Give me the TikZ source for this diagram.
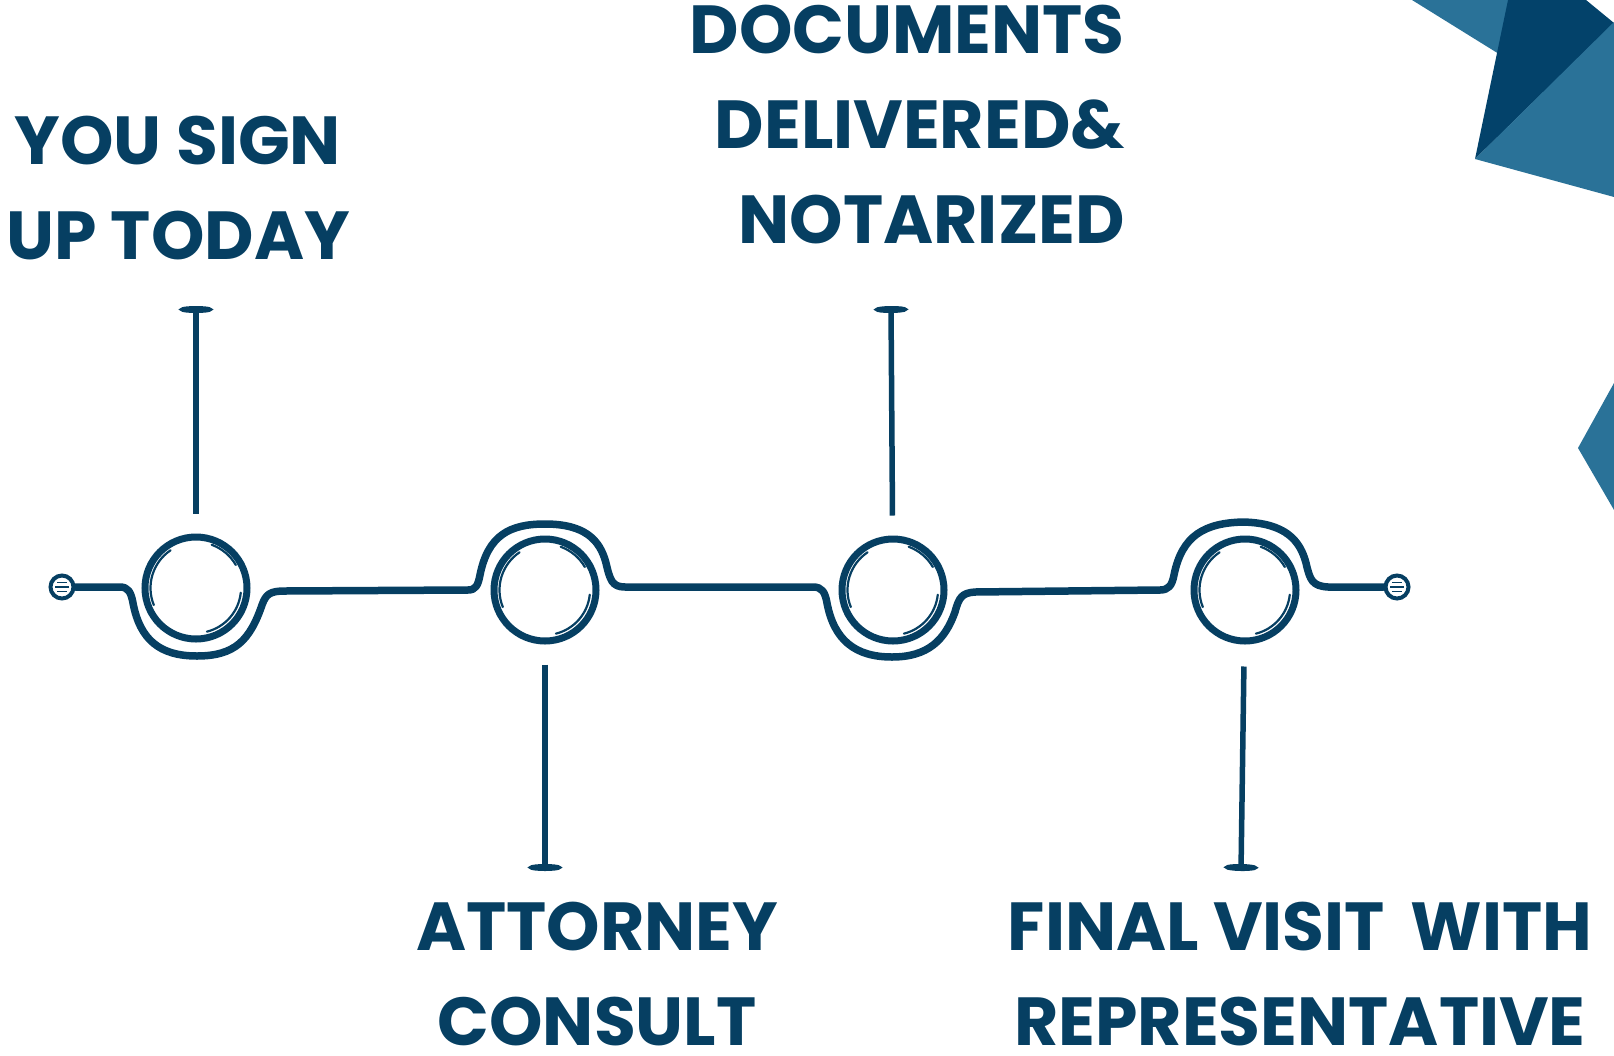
\documentclass[tikz,border=0pt]{standalone}
\usepackage{fontspec}
\newfontfamily\stepfont{Poppins}
\usetikzlibrary{arrows.meta}
\definecolor{navy}{HTML}{063F62}
\definecolor{sea}{HTML}{2A7298}
\definecolor{deep}{HTML}{03426A}

\begin{document}
\begin{tikzpicture}[
    x=1pt, y=-1pt,
    steptext/.style={font={\stepfont\bfseries\fontsize{68}{95}\selectfont}, text=navy, inner sep=0pt},
    ring/.style={circle, draw=navy, line width=7pt, minimum size=102pt, inner sep=0pt},
    knob/.style={circle, draw=navy, line width=4pt, minimum size=23pt, inner sep=0pt},
    track/.style={draw=navy, line width=7.5pt, line cap=round, line join=round},
    stem/.style={draw=navy, line width=5.5pt, -{Ellipse[length=7pt,width=32pt]}},
    sketch/.style={draw=navy, line width=2.2pt, line cap=round},
]
\useasboundingbox (0,0) rectangle (1614,1055);

% corner shapes
\fill[sea] (1412,0) -- (1499,54) -- (1510,0) -- cycle;
\fill[deep] (1508,0) -- (1475,159) -- (1614,23) -- (1586,0) -- cycle;
\fill[sea] (1475,159) -- (1614,22) -- (1614,197) -- cycle;
\fill[sea] (1578,448) -- (1614,383) -- (1614,510) -- cycle;

% steps
\node[ring] (step1) at (196,588) {};
\node[ring] (step2) at (545,590) {};
\node[ring] (step3) at (893,590) {};
\node[ring] (step4) at (1245,590) {};
\node[knob] (knobL) at (62,587) {};
\node[knob] (knobR) at (1397,587) {};

\foreach \s in {step1,step2,step3,step4} {
    \draw[sketch] ([shift={(158:45.5)}]\s.center) arc[start angle=158, end angle=236, radius=45.5];
    \draw[sketch] ([shift={(290:46)}]\s.center) arc[start angle=290, end angle=330, radius=46];
    \draw[sketch] ([shift={(6:45)}]\s.center) arc[start angle=6, end angle=76, radius=45];
}
\foreach \k in {knobL,knobR} {
    \draw[navy, line width=1.7pt] ([shift={(-5,-4.5)}]\k.center) -- ++(10,0);
    \draw[navy, line width=1.7pt] ([shift={(-7,0)}]\k.center) -- ++(14,0);
    \draw[navy, line width=1.7pt] ([shift={(-5,4.5)}]\k.center) -- ++(10,0);
}

% track
\draw[track] (knobL.east) -- (120,587)
    .. controls (128,587) and (131,592) .. (133,603)
    .. controls (140,640) and (160,656) .. (197,656)
    .. controls (235,656) and (250,640) .. (262,605)
    .. controls (266,594) and (270,591) .. (285,591)
    -- (468,590)
    .. controls (476,590) and (478,585) .. (480,575)
    .. controls (488,535) and (510,524) .. (545,524)
    .. controls (585,524) and (600,540) .. (606,563)
    .. controls (610,580) and (612,587) .. (625,587)
    -- (813,587)
    .. controls (822,587) and (825,592) .. (827,603)
    .. controls (834,640) and (855,657) .. (892,657)
    .. controls (928,657) and (945,640) .. (955,612)
    .. controls (959,597) and (962,593) .. (975,592)
    -- (1160,590)
    .. controls (1168,590) and (1172,586) .. (1174,575)
    .. controls (1182,535) and (1205,523) .. (1243,522)
    .. controls (1285,523) and (1300,540) .. (1306,563)
    .. controls (1310,580) and (1312,586) .. (1328,587)
    -- (knobR.west);

% labels
\node[steptext, align=center] (sign) at (178,188) {YOU SIGN\\UP TODAY};
\node[steptext, align=right, anchor=east] (docs) at (1125,125) {DOCUMENTS\\DELIVERED\&\\NOTARIZED};
\node[steptext, align=center, text depth=0pt, anchor=south] (consult) at (597,1046) {ATTORNEY\\CONSULT};
\node[steptext, align=center, text depth=0pt, anchor=south] (visit) at (1300,1046) {FINAL VISIT \,WITH\\REPRESENTATIVE};

\coordinate (cap1) at (196,306);
\coordinate (cap2) at (545,871);
\coordinate (cap3) at (891,306);
\coordinate (cap4) at (1241,871);
\draw[stem, shorten <=20pt] (step1) -- (cap1);
\draw[stem, shorten <=20pt] (step2) -- (cap2);
\draw[stem, shorten <=20pt] (step3) -- (cap3);
\draw[stem, shorten <=22pt] (step4) -- (cap4);
\end{tikzpicture}
\end{document}
